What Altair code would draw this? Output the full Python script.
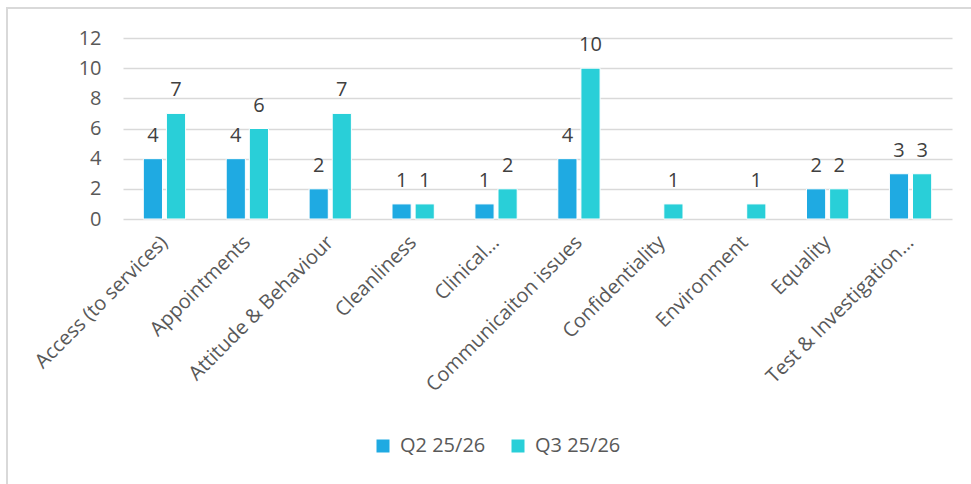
import altair as alt
import pandas as pd

categories = ["Access (to services)", "Appointments", "Attitude & Behaviour", "Cleanliness",
              "Clinical…", "Communicaiton issues", "Confidentiality", "Environment",
              "Equality", "Test & Investigation…"]
series = ["Q2 25/26", "Q3 25/26"]
q2_values = [4, 4, 2, 1, 1, 4, None, None, 2, 3]
q3_values = [7, 6, 7, 1, 2, 10, 1, 1, 2, 3]
colors = ["#1FAAE2", "#29CFD8"]
y_ticks = [0, 2, 4, 6, 8, 10, 12]

rows = []
for c, a, b in zip(categories, q2_values, q3_values):
    if a is not None:
        rows.append({"category": c, "series": series[0], "value": a})
    if b is not None:
        rows.append({"category": c, "series": series[1], "value": b})
df = pd.DataFrame(rows)

FONT = "Open Sans"
TXT = "#595959"
FS = 20

x = alt.X("category:N", sort=categories,
          scale=alt.Scale(domain=categories, paddingInner=0.49, paddingOuter=0.245),
          axis=alt.Axis(title=None, labelAngle=-45, labelAlign="right", labelBaseline="middle",
                        labelPadding=20, labelFontSize=FS, labelFont=FONT, labelColor=TXT,
                        domain=False, ticks=False, grid=False, labelLimit=400,
                        labelOverlap=False))
xo = alt.XOffset("series:N", scale=alt.Scale(domain=series, paddingInner=0.17, paddingOuter=0))
y = alt.Y("value:Q", scale=alt.Scale(domain=[0, 12], nice=False),
          axis=alt.Axis(title=None, values=y_ticks, tickCount=7, labelFontSize=FS, labelFont=FONT,
                        labelColor=TXT, labelPadding=22, domain=False, ticks=False,
                        labelOverlap=False, gridColor="#D9D9D9", gridWidth=1.3))

bars = alt.Chart(df).mark_bar(stroke="white", strokeWidth=1).encode(
    x=x, xOffset=xo, y=y,
    color=alt.Color("series:N", scale=alt.Scale(domain=series, range=colors),
                    legend=alt.Legend(title=None, orient="none", direction="horizontal",
                                      legendX=250, legendY=398, symbolType="square",
                                      symbolSize=169, symbolStrokeWidth=0,
                                      labelFontSize=FS, labelFont=FONT, labelColor=TXT,
                                      labelOffset=7, columnPadding=22, padding=0)),
)

labels = alt.Chart(df).mark_text(baseline="alphabetic", dy=-17, fontSize=FS, font=FONT,
                                 color="#404040").encode(
    x=x, xOffset=xo, y=y, text=alt.Text("value:Q"))

border_left = alt.Chart(df).mark_rule(color="#D9D9D9", strokeWidth=2).encode(
    x=alt.value(-116), y=alt.value(-31), y2=alt.value(460))
border_top = alt.Chart(df).mark_rule(color="#D9D9D9", strokeWidth=2).encode(
    x=alt.value(-117), x2=alt.value(860), y=alt.value(-30))

chart = alt.layer(bars, labels, border_left, border_top).properties(
    width=829, height=181,
    background="white",
    autosize=alt.AutoSizeParams(type="none"),
    padding={"left": 123, "top": 38, "right": 19, "bottom": 265},
).configure_view(strokeWidth=0, stroke="transparent")

chart.save("out.html", embed_options={"renderer": "svg", "actions": False})
